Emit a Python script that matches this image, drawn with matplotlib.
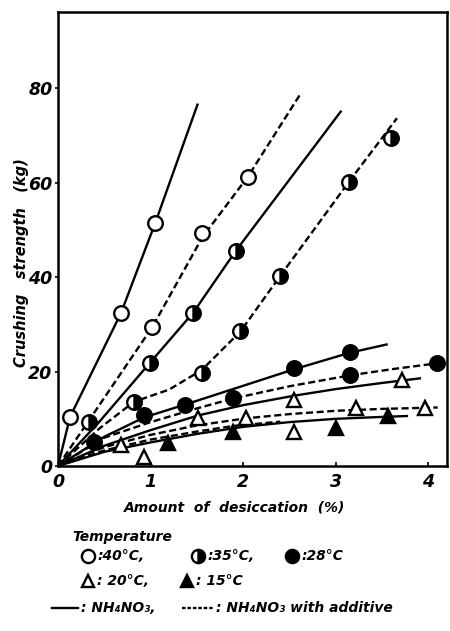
import matplotlib
matplotlib.use('Agg')
from matplotlib import pyplot as plt
from matplotlib.lines import Line2D


# measured points: crushing strength (kg) vs amount of desiccation (%)
x_40_plain = [0.13, 0.68, 1.05]
y_40_plain = [10.4, 32.4, 51.5]
x_40_add = [1.02, 1.56, 2.05]
y_40_add = [29.5, 49.3, 61.3]

x_35_plain = [0.34, 0.99, 1.46, 1.92]
y_35_plain = [9.4, 21.8, 32.5, 45.6]
x_35_add = [0.82, 1.55, 1.97, 2.40, 3.14, 3.59]
y_35_add = [13.6, 19.8, 28.5, 40.3, 60.2, 69.4]

x_28_plain = [0.93, 1.37, 2.55, 3.15]
y_28_plain = [10.8, 12.9, 20.7, 24.2]
x_28_add = [0.39, 1.89, 3.15, 4.09]
y_28_add = [5.1, 14.5, 19.3, 21.8]

x_20_plain = [0.68, 1.51, 2.55, 3.71]
y_20_plain = [4.4, 10.1, 14.0, 18.2]
x_20_add = [0.93, 2.03, 2.55, 3.22, 3.96]
y_20_add = [2.0, 10.1, 7.3, 12.2, 12.2]

x_15 = [1.19, 1.89, 3.00, 3.56]
y_15 = [4.8, 7.3, 8.0, 10.5]

# hand-drawn trend curves
cx_40_plain = [0, 0.13, 0.68, 1.05, 1.51]
cy_40_plain = [0, 10.4, 32.4, 51.5, 76.8]
cx_40_add = [0, 1.02, 1.56, 2.05, 2.61]
cy_40_add = [0, 29.5, 48.5, 61.3, 78.6]

cx_35_plain = [0, 0.43, 0.99, 1.46, 1.92, 3.06]
cy_35_plain = [0, 9.0, 21.8, 32.5, 45.6, 75.3]
cx_35_add = [0, 0.45, 0.82, 1.2, 1.55, 1.97, 2.40, 3.14, 3.66]
cy_35_add = [0, 8.0, 13.6, 16.2, 20.3, 28.5, 40.3, 60.2, 73.7]

cx_28_plain = [0, 0.5, 0.93, 1.37, 2.0, 2.55, 3.15, 3.56]
cy_28_plain = [0, 6.2, 10.3, 13.0, 17.0, 20.5, 24.0, 25.8]
cx_28_add = [0, 0.5, 1.0, 1.5, 1.89, 2.5, 3.15, 3.6, 4.15]
cy_28_add = [0, 6.0, 9.3, 12.2, 14.3, 16.9, 19.2, 20.5, 21.9]

cx_20_plain = [0, 0.5, 1.0, 1.51, 2.0, 2.55, 3.0, 3.5, 3.92]
cy_20_plain = [0, 4.3, 7.6, 10.7, 12.9, 14.9, 16.3, 17.6, 18.6]
cx_20_add = [0, 0.5, 1.0, 1.5, 2.03, 2.5, 3.0, 3.5, 4.1]
cy_20_add = [0, 4.0, 6.6, 8.6, 10.1, 11.0, 11.7, 12.1, 12.4]

cx_15_plain = [0, 0.5, 1.0, 1.5, 2.0, 2.5, 3.0, 3.5, 3.78]
cy_15_plain = [0, 3.0, 5.0, 6.8, 8.3, 9.3, 10.0, 10.4, 10.6]
cx_15_add = [0, 0.5, 1.0, 1.5, 1.9, 2.4]
cy_15_add = [0, 3.3, 5.6, 7.3, 8.5, 9.4]

x_ticks = [0, 1, 2, 3, 4]
y_ticks = [0, 20, 40, 60, 80]

FONT = dict(family='DejaVu Sans', weight='bold', style='italic')
LW = 1.7
DASH = (0, (3, 1.5))

OPEN_CIRCLE = dict(marker='o', ms=10.5, mfc='white', mec='black', mew=1.7)
HALF_CIRCLE = dict(marker='o', ms=10.5, mfc='black', mfcalt='white', fillstyle='right', mec='black', mew=1.7)
FULL_CIRCLE = dict(marker='o', ms=10.5, mfc='black', mec='black', mew=1.7)
OPEN_TRI = dict(marker='^', ms=9.5, mfc='white', mec='black', mew=1.7)
FULL_TRI = dict(marker='^', ms=9.5, mfc='black', mec='black', mew=1.7)


def px(x, y):
    # pixel position on the 450 x 631 canvas -> figure fraction
    return x / 450, 1 - y / 631


def draw_curves(ax):
    solid = [(cx_40_plain, cy_40_plain), (cx_35_plain, cy_35_plain), (cx_28_plain, cy_28_plain),
             (cx_20_plain, cy_20_plain), (cx_15_plain, cy_15_plain)]
    dashed = [(cx_40_add, cy_40_add), (cx_35_add, cy_35_add), (cx_28_add, cy_28_add),
              (cx_20_add, cy_20_add), (cx_15_add, cy_15_add)]
    for cx, cy in solid:
        ax.plot(cx, cy, color='black', lw=LW, solid_capstyle='butt', zorder=2)
    for cx, cy in dashed:
        ax.plot(cx, cy, color='black', lw=LW, linestyle=DASH, dash_capstyle='butt', zorder=2)


def draw_points(ax):
    groups = [(x_40_plain, y_40_plain, OPEN_CIRCLE), (x_40_add, y_40_add, OPEN_CIRCLE),
              (x_35_plain, y_35_plain, HALF_CIRCLE), (x_35_add, y_35_add, HALF_CIRCLE),
              (x_28_plain, y_28_plain, FULL_CIRCLE), (x_28_add, y_28_add, FULL_CIRCLE),
              (x_20_plain, y_20_plain, OPEN_TRI), (x_20_add, y_20_add, OPEN_TRI),
              (x_15, y_15, FULL_TRI)]
    for xs, ys, style in groups:
        ax.plot(xs, ys, linestyle='none', zorder=3, clip_on=False, **style)


def draw_key(fig):
    fig.text(*px(72, 537), 'Temperature', ha='left', va='center', fontsize=10, **FONT)

    rows = [(88, 556, OPEN_CIRCLE, ':40°C,'), (198, 556, HALF_CIRCLE, ':35°C,'), (292, 556, FULL_CIRCLE, ':28°C'),
            (88, 581, OPEN_TRI, ': 20°C,'), (187, 581, FULL_TRI, ': 15°C')]
    for mx, my, style, label in rows:
        key_style = dict(style, ms=style['ms'] - 1)
        fig.add_artist(Line2D([mx / 450], [1 - my / 631], transform=fig.transFigure, linestyle='none', **key_style))
        fig.text(*px(mx + 9, my), label, ha='left', va='center', fontsize=10, **FONT)

    fig.add_artist(Line2D([52 / 450, 78 / 450], [1 - 608 / 631] * 2, transform=fig.transFigure,
                          color='black', lw=LW))
    fig.text(*px(81, 608), ': NH₄NO₃,', ha='left', va='center', fontsize=10, **FONT)
    fig.add_artist(Line2D([182 / 450, 213 / 450], [1 - 608 / 631] * 2, transform=fig.transFigure,
                          color='black', lw=LW, linestyle=(0, (1.5, 0.8))))
    fig.text(*px(216, 608), ': NH₄NO₃ with additive', ha='left', va='center', fontsize=10, **FONT)


def main():
    fig = plt.figure(figsize=(4.5, 6.31), dpi=100)
    ax = fig.add_axes([58 / 450, 1 - 466 / 631, 389 / 450, 454 / 631])

    draw_curves(ax)
    draw_points(ax)

    ax.set_xlim(0, 4.2)
    ax.set_ylim(0, 96.2)
    ax.set_xticks(x_ticks)
    ax.set_yticks(y_ticks)
    ax.set_xticklabels([str(t) for t in x_ticks], fontsize=12.5, **FONT)
    ax.set_yticklabels([str(t) for t in y_ticks], fontsize=12.5, **FONT)
    ax.tick_params(axis='x', direction='in', length=3, width=1.2, pad=5)
    ax.tick_params(axis='y', direction='out', length=2, width=1.2, pad=2)
    for spine in ax.spines.values():
        spine.set_linewidth(1.8)

    ax.set_xlabel('Amount  of  desiccation  (%)', fontsize=10, **FONT)
    ax.xaxis.set_label_coords(0.455, -0.092)
    ax.xaxis.label.set_va('center')
    ax.set_ylabel('Crushing   strength   (kg)', fontsize=10.5, **FONT)
    ax.yaxis.set_label_coords(-0.095, 0.449)
    ax.yaxis.label.set_va('center')

    draw_key(fig)

    plt.savefig('out.png', dpi=100)
    plt.close()


if __name__ == '__main__':
    main()
